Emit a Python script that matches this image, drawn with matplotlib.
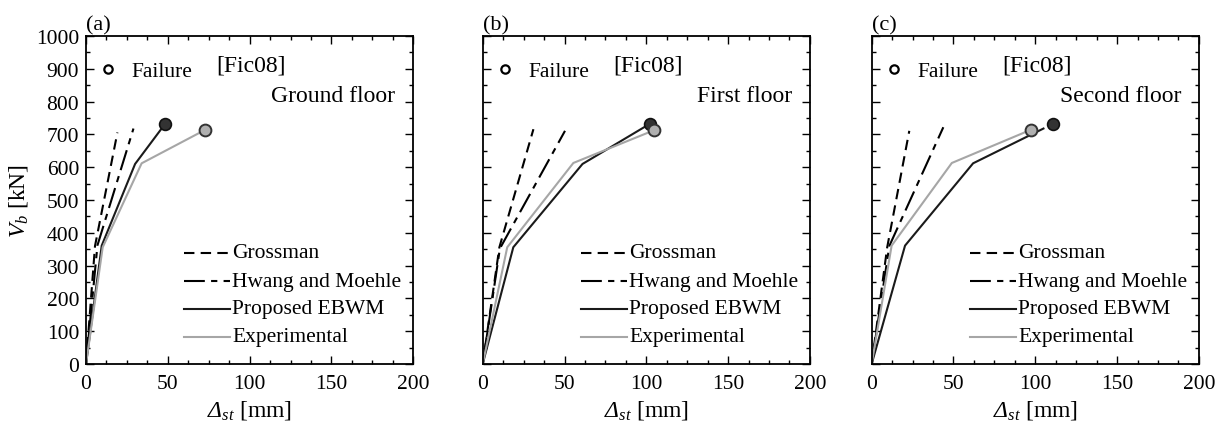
import matplotlib
matplotlib.use("Agg")
import matplotlib.pyplot as plt
from matplotlib.ticker import MultipleLocator

plt.rcParams["font.family"] = ["Liberation Serif", "DejaVu Serif"]
plt.rcParams["mathtext.fontset"] = "custom"
plt.rcParams["mathtext.rm"] = "Liberation Serif"
plt.rcParams["mathtext.it"] = "Liberation Serif:italic"
# slanted Greek capitals via the sf slot
plt.rcParams["mathtext.sf"] = "Liberation Serif:italic"

panel_tags = ["(a)", "(b)", "(c)"]
floor_names = ["Ground floor", "First floor", "Second floor"]
specimen = "[Fic08]"
series_names = ["Grossman", "Hwang and Moehle", "Proposed EBWM", "Experimental"]

# Drift (mm) and base shear (kN) for each floor
grossman_x = [[0, 5.5, 19.2], [0, 10.2, 31.0], [0, 9.5, 23.0]]
grossman_y = [[0, 360, 706], [0, 356, 716], [0, 356, 711]]
hwang_x = [[0, 7.0, 29.0], [0, 10.5, 50.3], [0, 10.8, 43.8]]
hwang_y = [[0, 362, 718], [0, 352, 711], [0, 360, 722]]
ebwm_x = [[0, 9.6, 30.0, 48.3], [0, 18.7, 61.0, 102.0], [0, 20.4, 62.0, 105.0]]
ebwm_y = [[0, 361, 610, 732], [0, 356, 610, 732], [0, 361, 612, 718]]
exp_x = [[0, 10.2, 34.0, 72.8], [0, 15.0, 55.4, 104.8], [0, 12.2, 49.0, 97.2]]
exp_y = [[0, 356, 612, 714], [0, 356, 613, 713], [0, 361, 613, 714]]

# Failure points
ebwm_fail_x = [48.3, 102.0, 110.7]
ebwm_fail_y = [732, 732, 732]
exp_fail_x = [72.8, 104.8, 97.2]
exp_fail_y = [714, 713, 714]

fig = plt.figure(figsize=(12.27, 4.27), dpi=100)
lefts = [0.0701, 0.3934, 0.7104]
width, bottom, height = 0.2667, 0.1452, 0.768

fs = 15.5
dash = (0, (5, 3))
dashdot = (0, (10, 3, 3, 3))
for i in range(3):
    ax = fig.add_axes([lefts[i], bottom, width, height])
    ax.plot(grossman_x[i], grossman_y[i], color="black", lw=1.5, ls=dash)
    ax.plot(hwang_x[i], hwang_y[i], color="black", lw=1.5, ls=dashdot)
    ax.plot(ebwm_x[i], ebwm_y[i], color="#1a1a1a", lw=1.5)
    ax.plot(exp_x[i], exp_y[i], color="#a6a6a6", lw=1.5)
    ax.plot(ebwm_fail_x[i], ebwm_fail_y[i], "o", ms=8.5, mfc="#333333",
            mec="#111111", mew=1.2, zorder=5)
    ax.plot(exp_fail_x[i], exp_fail_y[i], "o", ms=8.5, mfc="#b0b0b0",
            mec="#333333", mew=1.4, zorder=5)

    ax.set_xlim(0, 200)
    ax.set_ylim(0, 1000)
    ax.xaxis.set_major_locator(MultipleLocator(50))
    ax.xaxis.set_minor_locator(MultipleLocator(12.5))
    ax.yaxis.set_major_locator(MultipleLocator(100))
    ax.yaxis.set_minor_locator(MultipleLocator(50))
    ax.tick_params(which="both", direction="in", top=True, right=True,
                   labelsize=fs, width=1.0)
    ax.tick_params(which="major", length=5.5)
    ax.tick_params(which="minor", length=3)
    ax.tick_params(axis="x", pad=7)
    ax.tick_params(axis="y", pad=5)
    for s in ax.spines.values():
        s.set_linewidth(1.3)
    if i == 0:
        ax.set_ylabel(r"$\mathit{V}_{\mathit{b}}$ [kN]", fontsize=fs + 1.5, labelpad=4)
    else:
        ax.tick_params(axis="y", labelleft=False)
    ax.set_xlabel(r"$\mathsf{Δ}_{\mathit{st}}$ [mm]", fontsize=fs + 1.5, labelpad=4)

    ax.text(0.0, 1.005, panel_tags[i], transform=ax.transAxes, fontsize=fs + 0.5,
            ha="left", va="bottom")
    ax.plot(13.5, 900, "o", ms=6, mfc="white", mec="black", mew=1.6)
    ax.text(28, 893, "Failure", fontsize=fs, ha="left", va="center")
    ax.text(101, 912, specimen, fontsize=fs + 1.5, ha="center", va="center")
    ax.text(189, 818, floor_names[i], fontsize=fs + 1.5, ha="right", va="center")

    # Hand-placed key
    rows = [340, 253, 168, 83]
    styles = [dict(color="black", lw=1.5, ls=dash),
              dict(color="black", lw=1.5, ls=dashdot),
              dict(color="#1a1a1a", lw=1.5),
              dict(color="#a6a6a6", lw=1.5)]
    for r, name, st in zip(rows, series_names, styles):
        ax.plot([60, 88], [r, r], **st)
        ax.text(89.5, r, name, fontsize=fs, ha="left", va="center")

fig.savefig("out.png", dpi=100)
